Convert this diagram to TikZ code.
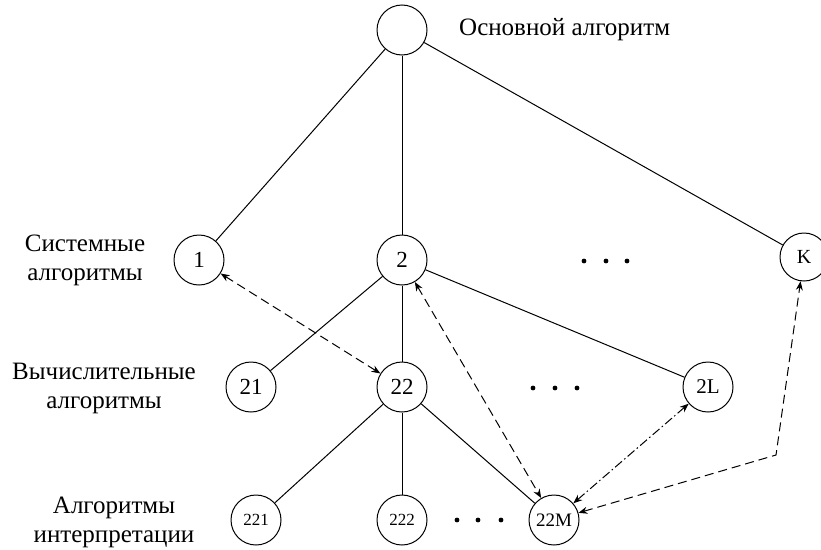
\documentclass[tikz,border=0pt]{standalone}
\usepackage{fontspec}
\setmainfont{Liberation Serif}
\usetikzlibrary{arrows.meta}
\begin{document}
\begin{tikzpicture}[x=1pt,y=-1pt,
  vert/.style={draw,circle,line width=1pt,minimum size=50pt,inner sep=0pt,font=\fontsize{23}{23}\selectfont},
  lbl/.style={align=center,font=\fontsize{25}{29}\selectfont,inner sep=0pt},
  edge/.style={line width=1pt},
  link/.style={line width=1pt,dash pattern=on 9pt off 5pt,{Stealth[length=9pt,width=7pt]}-{Stealth[length=9pt,width=7pt]}},
  dlink/.style={line width=1pt,dash pattern=on 9pt off 3pt on 1.5pt off 3pt,{Stealth[length=9pt,width=7pt]}-{Stealth[length=9pt,width=7pt]}},
  dotm/.style={fill=black}]
\useasboundingbox (0,0) rectangle (821,549);
\node[vert] (top) at (402,30) {};
\node[vert] (n1) at (199,260) {1};
\node[vert] (n2) at (402,260) {2};
\node[vert,minimum size=48pt,font=\fontsize{20}{20}\selectfont] (nK) at (804,257) {K};
\node[vert] (n21) at (251,387) {21};
\node[vert] (n22) at (402,387) {22};
\node[vert,font=\fontsize{21}{21}\selectfont] (n2L) at (708,387) {2L};
\node[vert,font=\fontsize{17}{17}\selectfont] (n221) at (256,520) {221};
\node[vert,font=\fontsize{17}{17}\selectfont] (n222) at (402,520) {222};
\node[vert,font=\fontsize{19}{19}\selectfont] (n22M) at (554,520) {22M};
\coordinate (bend) at (776,455);

\node[lbl,anchor=west] (tmain) at (459,30) {Основной алгоритм};
\node[lbl] (tsys) at (85,260) {Системные\\алгоритмы};
\node[lbl] (tcomp) at (104,388) {Вычислительные\\алгоритмы};
\node[lbl] (tint) at (114,522) {Алгоритмы\\интерпретации};

\draw[edge] (top) -- (n1);
\draw[edge] (top) -- (n2);
\draw[edge] (top) -- (nK);
\draw[edge] (n2) -- (n21);
\draw[edge] (n2) -- (n22);
\draw[edge] (n2) -- (n2L);
\draw[edge] (n22) -- (n221);
\draw[edge] (n22) -- (n222);
\draw[edge] (n22) -- (n22M);

\draw[link] (n1) -- (n22);
\draw[link] (n2) -- (n22M);
\draw[dlink] (n2L) -- (n22M);
\draw[link] (n22M) -- (bend) -- (nK);

\foreach \x in {584,606,627} \fill (\x,261) circle (2.4pt);
\foreach \x in {533,555,577} \fill (\x,388) circle (2.4pt);
\foreach \x in {457,478,501} \fill (\x,520) circle (2.4pt);
\end{tikzpicture}
\end{document}
